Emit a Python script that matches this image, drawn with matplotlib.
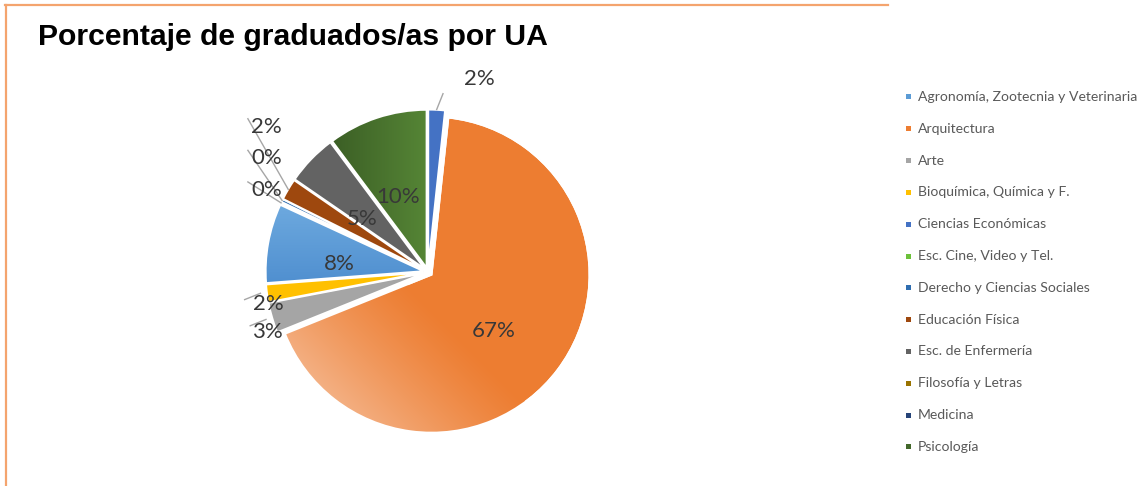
import numpy as np
import matplotlib
matplotlib.use("Agg")
import matplotlib.pyplot as plt
from matplotlib.lines import Line2D
from matplotlib.patches import Wedge, Rectangle
from matplotlib.colors import to_rgb

# ---------------- data ----------------
categories = ["Agronomía, Zootecnia y Veterinaria", "Arquitectura", "Arte",
              "Bioquímica, Química y F.", "Ciencias Económicas",
              "Esc. Cine, Video y Tel.", "Derecho y Ciencias Sociales",
              "Educación Física", "Esc. de Enfermería", "Filosofía y Letras",
              "Medicina", "Psicología"]
percentages = [8.1, 67.2, 3.1, 1.8, 1.7, 0.2, 0.3, 2.2, 5.2, 0.0, 0.0, 10.2]
colors = ["#5B9BD5", "#ED7D31", "#A5A5A5", "#FFC000", "#4472C4", "#6CC13A",
          "#2F6DB0", "#9E480E", "#636363", "#997300", "#264478", "#43682B"]
# order in which the slices appear clockwise from 12 o'clock
pie_order = [4, 1, 2, 3, 0, 5, 6, 7, 8, 11]
title = "Porcentaje de graduados/as por UA"

# ---------------- figure ----------------
W, H, DPI = 1147, 486, 100
fig = plt.figure(figsize=(W / DPI, H / DPI), dpi=DPI)
fig.patch.set_facecolor("white")

ax = fig.add_axes([0, 0, 1, 1])
ax.set_axis_off()

cx, cy, R = 428, 486 - 272, 158.0  # pixel centre and radius

vals = [percentages[i] for i in pie_order]
cols = [colors[i] for i in pie_order]
names = [categories[i] for i in pie_order]
explode = [0.028] * len(vals)

label_font = dict(family=["Lato", "DejaVu Sans"], size=16, color="#383838")

wedges, texts, autotexts = ax.pie(
    vals, colors=cols, startangle=90, counterclock=False, explode=explode,
    autopct="%1.0f%%", pctdistance=0.52, radius=1.0,
    wedgeprops=dict(edgecolor="white", linewidth=1.4),
    textprops=label_font)


def pol(r, ang):
    a = np.deg2rad(ang)
    return r * np.cos(a), r * np.sin(a)


def gradient(wedge, c0, c1, tfunc):
    x = np.linspace(-1.3, 1.3, 400)
    X, Y = np.meshgrid(x, x)
    t = np.clip(tfunc(X, Y), 0, 1)[..., None]
    img = np.array(to_rgb(c0)) * (1 - t) + np.array(to_rgb(c1)) * t
    im = ax.imshow(img, extent=(-1.3, 1.3, -1.3, 1.3), origin="lower",
                   zorder=wedge.get_zorder() + 0.1, interpolation="bilinear")
    im.set_clip_path(wedge)
    outline = Wedge(wedge.center, wedge.r, wedge.theta1, wedge.theta2,
                    facecolor="none", edgecolor="white", linewidth=1.4,
                    zorder=wedge.get_zorder() + 0.2)
    ax.add_patch(outline)


for w, n in zip(wedges, names):
    if n == "Arquitectura":
        gradient(w, "#ED7D31", "#F4B083",
                 lambda X, Y: ((-(X + Y) / np.sqrt(2) - 0.15) / 0.85) ** 1.2)
    elif n == "Psicología":
        gradient(w, "#3B5E25", "#568636", lambda X, Y: (X + 0.62) / 0.62)
    elif n.startswith("Agronomía"):
        gradient(w, "#4E8ECF", "#6CA8DE", lambda X, Y: (Y + 0.1) / 0.5)

line_col = "#A6A6A6"
cluster = ["Esc. Cine, Video y Tel.", "Derecho y Ciencias Sociales", "Educación Física"]
cluster_x, cluster_y0, cluster_step = -1.02, 0.52, 0.2

for w, n, at in zip(wedges, names, autotexts):
    at.set_zorder(10)
    mid = (w.theta1 + w.theta2) / 2.0
    ex, ey = w.center
    if n == "Ciencias Económicas":
        x0, y0 = pol(1.03, mid)
        x1, y1 = x0 + 0.04, y0 + 0.10
        ax.plot([x0, x1], [y0, y1], color=line_col, lw=1.0, zorder=9)
        at.set_position((x1 + 0.23, y1 + 0.09))
        at.set_ha("center"); at.set_va("center")
    elif n in ("Arte", "Bioquímica, Química y F."):
        x, y = pol(1.1, mid)
        dx = 0.04 if n == "Arte" else 0.08
        at.set_position((x + dx, y - 0.07 if n == "Arte" else y - 0.06))
        at.set_ha("center"); at.set_va("center")
        ax.plot([x - 0.07, x + 0.03], [y - 0.03, y + 0.01], color=line_col,
                lw=1.0, zorder=9)
    elif n in cluster:
        k = cluster.index(n)
        lx, ly = cluster_x, cluster_y0 + k * cluster_step
        at.set_position((lx, ly))
        at.set_ha("center"); at.set_va("center")
        ex0, ey0 = pol(1.0, mid)
        ax.plot([lx - 0.12, ex0 + ex], [ly + 0.05, ey0 + ey], color=line_col,
                lw=1.0, zorder=9)
    else:
        px, py = at.get_position()
        at.set_position((px - 0.02, py - 0.045))

ax.set_aspect("auto")
ax.set_xlim(-cx / R, (W - cx) / R)
ax.set_ylim(-cy / R, (H - cy) / R)

# ---------------- title ----------------
fig.text(38 / W, 1 - 37 / H, title, ha="left", va="center",
         fontsize=21.7, fontweight="bold",
         family=["Liberation Sans", "DejaVu Sans"], color="black")

# ---------------- border ----------------
bcol = "#F4A46E"
fig.add_artist(Line2D([5 / W, 888 / W], [1 - 5.5 / H, 1 - 5.5 / H],
                      color=bcol, lw=1.6, transform=fig.transFigure))
fig.add_artist(Line2D([5.5 / W, 5.5 / W], [0, 1 - 5.5 / H],
                      color=bcol, lw=1.6, transform=fig.transFigure))

# ---------------- legend ----------------
leg_y0, leg_dy = 97, 31.8
for i, (name, c) in enumerate(zip(categories, colors)):
    yy = 1 - (leg_y0 + i * leg_dy) / H
    fig.add_artist(Rectangle(((908 - 2.5) / W, yy - 2.5 / H), 5 / W, 5 / H,
                             facecolor=c, edgecolor="none",
                             transform=fig.transFigure))
    fig.text(918 / W, yy, name, ha="left", va="center", fontsize=10.1,
             family=["Lato", "DejaVu Sans"], color="#595959")

fig.savefig("out.png", dpi=DPI)
